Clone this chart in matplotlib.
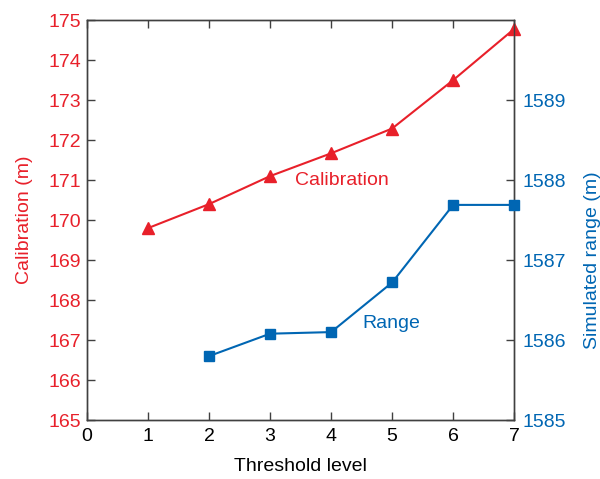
import matplotlib
matplotlib.use("Agg")
import matplotlib.pyplot as plt

plt.rcParams['font.family'] = ['Liberation Sans', 'DejaVu Sans']

# data
levels_cal = [1, 2, 3, 4, 5, 6, 7]
calibration = [169.8, 170.4, 171.1, 171.67, 172.29, 173.5, 174.78]
levels_rng = [2, 3, 4, 5, 6, 7]
sim_range = [1585.8, 1586.08, 1586.1, 1586.72, 1587.69, 1587.69]

red = '#e8202a'
blue = '#0066b3'
axc = '#404040'

fig = plt.figure(figsize=(6, 4.79), dpi=100)
ax1 = fig.add_axes([0.145, 0.123, 0.712, 0.835])
ax2 = ax1.twinx()

ax1.plot(levels_cal, calibration, color=red, lw=1.5, marker='^', ms=9, clip_on=False, zorder=3)
ax2.plot(levels_rng, sim_range, color=blue, lw=1.5, marker='s', ms=7, clip_on=False, zorder=3)

ax1.set_xlim(0, 7)
ax1.set_ylim(165, 175)
ax2.set_ylim(1585, 1590)
ax1.set_xticks(range(0, 8))
ax1.set_yticks(range(165, 176))
ax2.set_yticks(range(1585, 1590))

fs = 14
ax1.set_xlabel('Threshold level', fontsize=fs, labelpad=9)
ax1.set_ylabel('Calibration (m)', color=red, fontsize=fs, labelpad=11)
ax2.set_ylabel('Simulated range (m)', color=blue, fontsize=fs, labelpad=13)
# the right label sits a bit below the middle of the axis
ax2.yaxis.label.set_y(0.40)

ax1.tick_params(axis='x', direction='in', top=True, length=6, width=1, color=axc, labelsize=fs, pad=6)
ax1.tick_params(axis='y', direction='in', length=6, width=1, color=axc, labelcolor=red, labelsize=fs, pad=4)
ax2.tick_params(axis='y', direction='in', length=6, width=1, color=axc, labelcolor=blue, labelsize=fs, pad=6)

for ax in (ax1, ax2):
    for s in ax.spines.values():
        s.set_color(axc)
        s.set_linewidth(1)

ax1.text(4.18, 171.0, 'Calibration', color=red, fontsize=fs, ha='center', va='center')
ax2.text(4.99, 1586.21, 'Range', color=blue, fontsize=fs, ha='center', va='center')

fig.savefig('out.png', dpi=100)
